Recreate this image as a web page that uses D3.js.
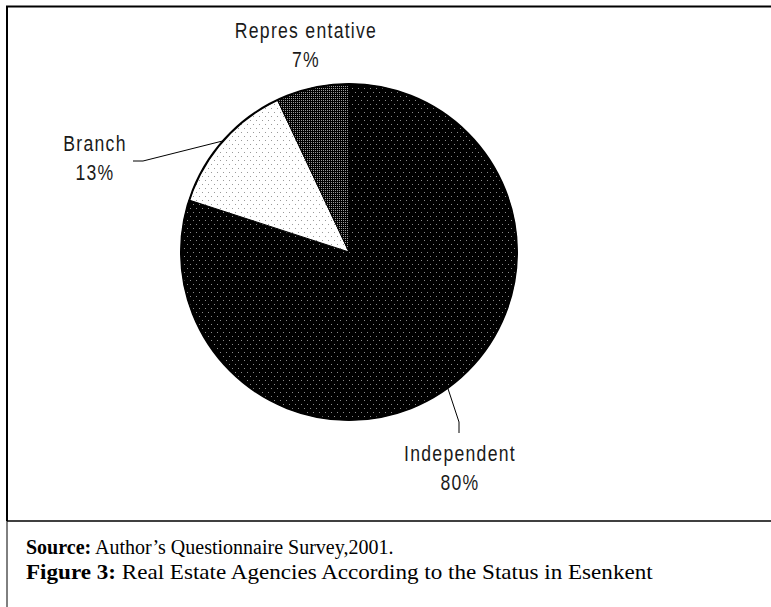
<html>
<head>
  <script src="https://d3js.org/d3.v7.min.js"></script>
  <style>
    body { margin: 0; background: #fff; }
    .lbl { font-family: "Liberation Sans", Arial, sans-serif; font-size: 22px; letter-spacing: 1.6px; fill: #1a1a1a; }
    .cap { font-family: "Liberation Serif", "Times New Roman", serif; font-size: 20px; fill: #000; }
  </style>
</head>
<body>
<svg id="p" width="771" height="607"></svg>
<script>
  // data
  const categories = ["Independent", "Branch", "Representative"];
  const labelText = ["Independent", "Branch", "Repres entative"];
  const values = [80, 13, 7];
  const sliceFill = ["url(#dotsBlack)", "url(#dotsWhite)", "url(#dotsGrey)"];

  const svg = d3.select("svg#p");
  const cx = 349, cy = 252, radius = 168;

  // dot screens like the scanned original
  const defs = svg.append("defs");
  function dotPattern(id, w, h, bg, dot, pts) {
    const p = defs.append("pattern").attr("id", id)
      .attr("patternUnits", "userSpaceOnUse").attr("width", w).attr("height", h);
    p.append("rect").attr("width", w).attr("height", h).attr("fill", bg);
    pts.forEach(q => p.append("rect").attr("x", q[0]).attr("y", q[1])
      .attr("width", 1).attr("height", 1).attr("fill", dot));
  }
  dotPattern("dotsBlack", 6, 8, "#000", "#8a8a8a", [[0, 0], [3, 4]]);
  dotPattern("dotsWhite", 6, 8, "#fff", "#9a9a9a", [[0, 0], [3, 4]]);
  dotPattern("dotsGrey", 2, 2, "#000", "#9a9a9a", [[0, 0]]);

  // frame
  svg.append("line").attr("x1", 6).attr("x2", 771).attr("y1", 6.5).attr("y2", 6.5)
     .attr("stroke", "#000").attr("stroke-width", 2);
  svg.append("line").attr("x1", 7).attr("x2", 7).attr("y1", 6).attr("y2", 521)
     .attr("stroke", "#000").attr("stroke-width", 2);
  svg.append("line").attr("x1", 7).attr("x2", 7).attr("y1", 521).attr("y2", 607)
     .attr("stroke", "#000").attr("stroke-width", 1);
  svg.append("line").attr("x1", 7).attr("x2", 771).attr("y1", 521).attr("y2", 521)
     .attr("stroke", "#000").attr("stroke-width", 1.5);

  const pie = d3.pie().sort(null).value(d => d);
  const arcs = pie(values);
  const arc = d3.arc().innerRadius(0).outerRadius(radius);

  const chart = svg.append("g").attr("transform", "translate(" + cx + "," + cy + ")");
  chart.selectAll("path").data(arcs).join("path")
       .attr("d", arc)
       .attr("fill", (d, i) => sliceFill[i])
       .attr("stroke", "#000")
       .attr("stroke-width", 1);
  chart.append("circle").attr("r", radius).attr("fill", "none")
       .attr("stroke", "#000").attr("stroke-width", 2);

  // label layout: text centre relative to pie centre, and leader bends
  const labelLayout = [
    {x: 111, y: 209, lead: [[110, 170], [110, 181]]},
    {x: -254, y: -101, lead: [[-206, -91], [-216, -91]]},
    {x: -43, y: -214, lead: null}
  ];

  arcs.forEach((a, i) => {
    const L = labelLayout[i];
    const mid = (a.startAngle + a.endAngle) / 2;
    if (L.lead) {
      const pts = [[radius * Math.sin(mid), -radius * Math.cos(mid)]].concat(L.lead);
      chart.append("path").attr("d", d3.line()(pts))
           .attr("fill", "none").attr("stroke", "#000").attr("stroke-width", 1);
    }
    // narrow lettering, squeezed horizontally
    const g = chart.append("g")
      .attr("transform", "translate(" + L.x + "," + L.y + ") scale(0.8,1)");
    const t = g.append("text").attr("class", "lbl").attr("text-anchor", "middle");
    t.append("tspan").attr("x", 0).attr("y", 0).text(labelText[i]);
    t.append("tspan").attr("x", 0).attr("y", 29).text(d3.format(".0f")(values[i]) + "%");
  });

  // caption
  const cap1 = svg.append("text").attr("class", "cap").attr("x", 26).attr("y", 554);
  cap1.append("tspan").attr("font-weight", "bold").text("Source:");
  cap1.append("tspan").text(" Author\u2019s Questionnaire Survey,2001.");
  // second line is set wider in the original
  const cap2 = svg.append("g").attr("transform", "translate(26,579) scale(1.1,1)")
     .append("text").attr("class", "cap").style("font-size", "21px");
  cap2.append("tspan").attr("font-weight", "bold").text("Figure 3:");
  cap2.append("tspan").text(" Real Estate Agencies According to the Status in Esenkent");
</script>
</body>
</html>
